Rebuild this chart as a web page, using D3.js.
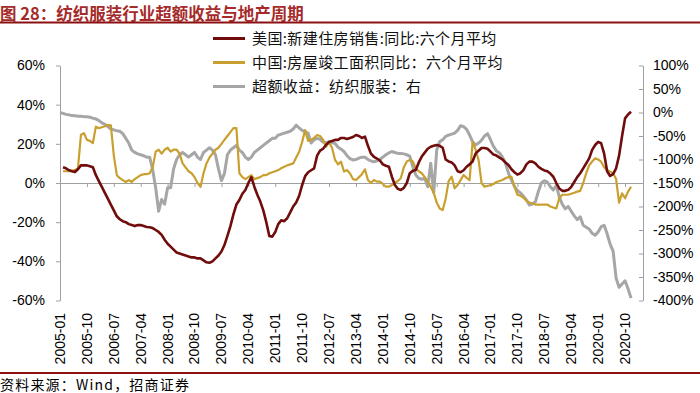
<!DOCTYPE html>
<html><head><meta charset="utf-8">
<script src="https://cdn.jsdelivr.net/npm/d3@7/dist/d3.min.js"></script>
<style>body{margin:0;background:#fff}svg{display:block}</style>
</head><body><svg id="c" width="700" height="393"></svg>
<script>
const titleText = "图 28：纺织服装行业超额收益与地产周期";
const sourceText = "资料来源：Wind，招商证券";
const seriesNames = ["美国:新建住房销售:同比:六个月平均", "中国:房屋竣工面积同比：六个月平均", "超额收益：纺织服装：右"];
const startLabel = "2005-01";
const xTickLabels = ["2005-01","2005-10","2006-07","2007-04","2008-01","2008-10","2009-07","2010-04","2011-01","2011-10","2012-07","2013-04","2014-01","2014-10","2015-07","2016-04","2017-01","2017-10","2018-07","2019-04","2020-01","2020-10"];
const leftTicks = [60,40,20,0,-20,-40,-60];
const rightTicks = [100,50,0,-50,-100,-150,-200,-250,-300,-350,-400];

// monthly values from 2005-01
const usSales = [null,
 8,7.5,6.5,6,5.6,7,9,9,9,8.5,
 8,4,1,-2,-5,-8,-11,-14,-17,-18.5,
 -19.5,-20,-21,-21.5,-22,-21.5,-21.5,-22,-22.5,-22.6,
 -23,-24,-25,-26.5,-29,-31,-32.5,-34,-35.5,-36,
 -36.5,-37,-37.5,-38,-38,-38.5,-38.5,-39.5,-40.5,-40.7,
 -40,-38.5,-37,-35,-31.7,-27,-22,-16,-11,-8.7,
 -5.5,-3.6,0,3,-1.9,-6,-9.5,-14,-20,-27,
 -27.4,-25,-21,-19,-19.5,-18,-15,-12,-10,-6.5,
 -1,3.5,5.5,6.5,7.5,14,16.5,17.5,19.5,21,
 21.5,22,22,23,23,22.5,23,23.5,24.5,24,
 23,23.7,19,15,13.4,12.5,11.5,9.5,8.8,8.3,
 3.2,-1,-3,-3.6,-2.5,0,5,6.2,6.6,10.5,
 13.5,15.5,17.5,18.5,19,19.4,19,18,12,11,
 10.5,9,6,5.5,6.5,8.3,9.5,11,15,16.5,
 17.9,17.9,17.5,16,14.5,14,13,12,10.5,9.2,
 7,5.5,4.3,5,6.6,9.5,10.9,10.9,10,8.3,
 7.2,6.4,6,4.8,3.2,0,-2.8,-4,-4,-3.5,
 -2,0.5,3,5,7.5,10,12.6,16.9,19.4,21,
 20.3,15,6,3.6,4.5,7.5,14,24,33,35,36.4];

const chinaCompleted = [null,
 6,6,6,6.3,6.6,7.5,24.5,25.5,22,21.5,
 20.4,28.8,28,28.5,29,29.6,29.5,14,4,2.5,
 1.5,0.5,1.5,0.5,2,3,4,4.5,4.5,5,
 8,16,17,15,17,18,16,17,17,15,
 10,8,6,5,3,0,-2,5,10,13,
 15,17,18,20,22,24,26,28,28,5,
 3,2,3,4,2,2.5,3,4,4,5,
 5.5,6,6.6,7.5,8.3,9,9.5,10,13,16,
 21,27,21.5,22,23,24.5,24,22,18.5,21,
 17.9,11.8,9.5,10.9,5.8,6.6,4.9,2,1.5,3,
 4.5,7,1.5,0,1.5,0.7,0.7,-0.5,-1.9,-1.9,
 -1,0,1,2.5,8,11,11.8,11,7.5,6,
 5,3,0.5,-2,-5,-10,-13,-13.8,-8,1,
 3.2,-2.7,-1,1.5,4.1,2.6,1.5,21,17,11.8,
 0,-1.9,-1.5,-1,-0.5,0.5,1,1.5,2.4,3,
 3.2,-1.9,-6,-6.5,-7.5,-9,-10,-10.5,-11,-11,
 -11,-11,-11,-12,-12.5,-13,-7.8,-6,-6,-6,
 -5.5,-5,-4.4,-4,0,5,9,11,12.6,12,
 10.9,8,6.6,5.8,5,2,-10,-5.3,-7.8,-4.4,-1.9];

const excessReturn = [0,
 -2,-4,-5,-6.6,-7,-8,-8,-8.8,-9,-10,
 -12,-13.7,-17,-22,-25,-30,-35,-37,-39,-40,
 -45,-55,-65,-80,-85,-88,-90,-92,-95,-95,
 -122,-160,-210,-185,-195,-160,-160,-120,-100,-90,
 -85,-90,-95,-90,-85,-95,-100,-85,-80,-75,
 -80,-90,-120,-145,-130,-90,-80,-75,-70,-80,
 -85,-95,-100,-95,-85,-80,-75,-70,-65,-60,
 -55,-55,-48,-46,-44,-42,-40,-35,-27,-33,
 -38,-41,-44,-65,-58,-55,-57,-63,-64,-62,
 -64,-66,-74,-78,-83,-92,-98,-101,-100,-97,
 -95,-95,-100,-103,-105,-103,-100,-95,-90,-86,
 -83,-85,-87,-87,-88,-90,-93,-115,-133,-140,
 -142,-140,-158,-108,-171,-80,-62,-58,-51,-48,
 -46,-44,-38,-28,-30,-36,-48,-62,-69,-65,
 -59,-50,-45,-58,-72,-82,-86,-95,-108,-129,
 -144,-157,-166,-171,-178,-186,-197,-195,-190,-168,
 -150,-145,-148,-158,-165,-155,-180,-195,-205,-200,
 -210,-220,-228,-222,-240,-244,-248,-257,-261,-254,
 -243,-240,-258,-280,-295,-352,-372,-365,-358,-375,-395];

const colors = {us:"#700C0C", cn:"#C9A02F", ex:"#A6A6A6", axis:"#A0A0A0", frame:"#8B1111", title:"#A52A2A"};

const svg = d3.select("#c");
const monthIndex = s => { const [y,m] = s.split("-").map(Number); const [y0,m0] = startLabel.split("-").map(Number); return (y-y0)*12 + (m-m0); };

const x = d3.scaleLinear().domain([0,195]).range([60,643]);
const yL = d3.scaleLinear().domain([-60,60]).range([300.5,65.5]);
const yR = d3.scaleLinear().domain([-400,100]).range([300.5,65.5]);

// title
svg.append("text").attr("x",0).attr("y",19.5).attr("fill",colors.title)
  .attr("font-family","'Noto Sans CJK SC', sans-serif").attr("font-weight","bold").attr("font-size",16.5).text(titleText);
svg.append("line").attr("x1",0).attr("x2",700).attr("y1",22.5).attr("y2",22.5).attr("stroke",colors.frame).attr("stroke-width",2);
svg.append("line").attr("x1",0).attr("x2",700).attr("y1",373).attr("y2",373).attr("stroke",colors.frame).attr("stroke-width",2);
svg.append("text").attr("x",0).attr("y",390).attr("fill","#000").attr("letter-spacing",1.2)
  .attr("font-family","'Noto Sans CJK SC', sans-serif").attr("font-size",14).text(sourceText);

// left axis
const gL = svg.append("g").attr("transform","translate(60,0)")
  .call(d3.axisLeft(yL).tickValues(leftTicks).tickFormat(d=>d+"%").tickSizeInner(4).tickSizeOuter(0).tickPadding(11));
// right axis
const gR = svg.append("g").attr("transform","translate(643,0)")
  .call(d3.axisRight(yR).tickValues(rightTicks).tickFormat(d=>d+"%").tickSizeInner(-4).tickSizeOuter(0).tickPadding(10));
[gL,gR].forEach(g=>{
  g.select(".domain").attr("stroke",colors.axis);
  g.selectAll(".tick line").attr("stroke",colors.axis);
  g.selectAll(".tick text").attr("fill","#000").attr("font-family","'Liberation Sans', Arial, sans-serif").attr("font-size",14);
});

// x axis at zero
const gX = svg.append("g").attr("transform",`translate(0,${yL(0)})`)
  .call(d3.axisBottom(x).tickValues(xTickLabels.map(monthIndex)).tickFormat("").tickSizeInner(4).tickSizeOuter(0));
gX.select(".domain").attr("stroke",colors.axis);
gX.selectAll(".tick line").attr("stroke",colors.axis);

// x labels at bottom
svg.append("g").selectAll("text").data(xTickLabels).join("text")
  .attr("transform",d=>`translate(${x(monthIndex(d))},313) rotate(-90)`)
  .attr("text-anchor","end").attr("dy","0.35em")
  .attr("font-family","'Liberation Sans', Arial, sans-serif").attr("font-size",14).attr("fill","#000")
  .text(d=>d);

// lines
const mk = (scale)=> d3.line().defined(d=>d!=null).x((d,i)=>x(i)).y(d=>scale(d));
svg.append("path").datum(excessReturn).attr("d",mk(yR)).attr("fill","none").attr("stroke",colors.ex).attr("stroke-width",3).attr("stroke-linejoin","round");
svg.append("path").datum(chinaCompleted).attr("d",mk(yL)).attr("fill","none").attr("stroke",colors.cn).attr("stroke-width",2.2).attr("stroke-linejoin","round");
svg.append("path").datum(usSales).attr("d",mk(yL)).attr("fill","none").attr("stroke",colors.us).attr("stroke-width",2.6).attr("stroke-linejoin","round");

// legend
const lg = svg.append("g");
const legendItems = [{n:seriesNames[0],c:colors.us},{n:seriesNames[1],c:colors.cn},{n:seriesNames[2],c:colors.ex}];
legendItems.forEach((it,k)=>{
  const yy = 38.5 + k*24;
  lg.append("line").attr("x1",213).attr("x2",245).attr("y1",yy).attr("y2",yy).attr("stroke",it.c).attr("stroke-width",3);
  lg.append("text").attr("x",252).attr("y",yy).attr("dy","0.36em").attr("letter-spacing",0.4)
    .attr("font-family","'Noto Sans CJK SC', sans-serif").attr("font-size",15).attr("fill","#111").text(it.n);
});
</script></body></html>
